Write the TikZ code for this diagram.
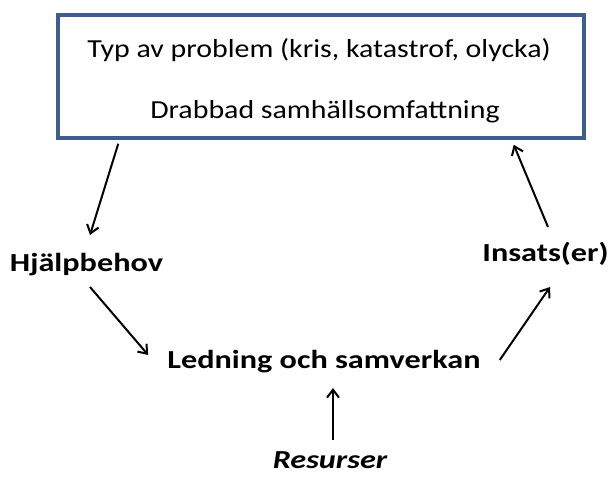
\documentclass[tikz,border=0pt]{standalone}
\usepackage{fontspec}
\setmainfont{Carlito}
\newfontfamily\boxfont[FakeStretch=1.15]{Carlito}
\newfontfamily\lblfont[FakeStretch=1.24]{Carlito}
\usetikzlibrary{calc,arrows.meta}
\definecolor{boxblue}{RGB}{62,95,140}

\begin{document}
\begin{tikzpicture}[x=1pt,y=-1pt,
    txt/.style={font=\fontsize{26}{30}\selectfont\boxfont, inner sep=0pt, anchor=base},
    lbl/.style={font=\fontsize{26}{30}\selectfont\lblfont\bfseries, inner sep=0pt, anchor=base},
    arr/.style={-{Straight Barb[length=8pt,width=12pt]}, line width=2pt}]
    \useasboundingbox (0,0) rectangle (611,477);
    % problem box
    \node[draw=boxblue, line width=3.5pt, minimum width=526pt, minimum height=123pt, inner sep=0pt] (box) at (321,76.5) {};
    \node[txt] (typ) at (319,57) {Typ av problem (kris, katastrof, olycka)};
    \node[txt] (drab) at (325,118) {Drabbad samhällsomfattning};
    % cycle
    \node[lbl] (hjalp) at (86.5,271) {Hjälpbehov};
    \node[lbl] (led) at (324,368) {Ledning och samverkan};
    \node[lbl] (ins) at (545.5,261) {Insats(er)};
    \node[lbl, font=\fontsize{26}{30}\selectfont\lblfont\bfseries\itshape] (res) at (330,468) {Resurser};
    \draw[arr] ($(box.south west)+(62,4)$) -- ($(hjalp.base)+(3.5,-36)$);
    \draw[arr] ($(hjalp.base)+(3.5,16)$) -- ($(led.base west)+(-19,-13)$);
    \draw[arr] ($(led.base east)+(19,-8)$) -- ($(ins.base)+(4.5,26)$);
    \draw[arr] ($(ins.base)+(2.5,-34)$) -- ($(box.south east)+(-72,5)$);
    \draw[arr] ($(res.base)+(3,-28)$) -- ($(led.base)+(9,20)$);
\end{tikzpicture}
\end{document}
